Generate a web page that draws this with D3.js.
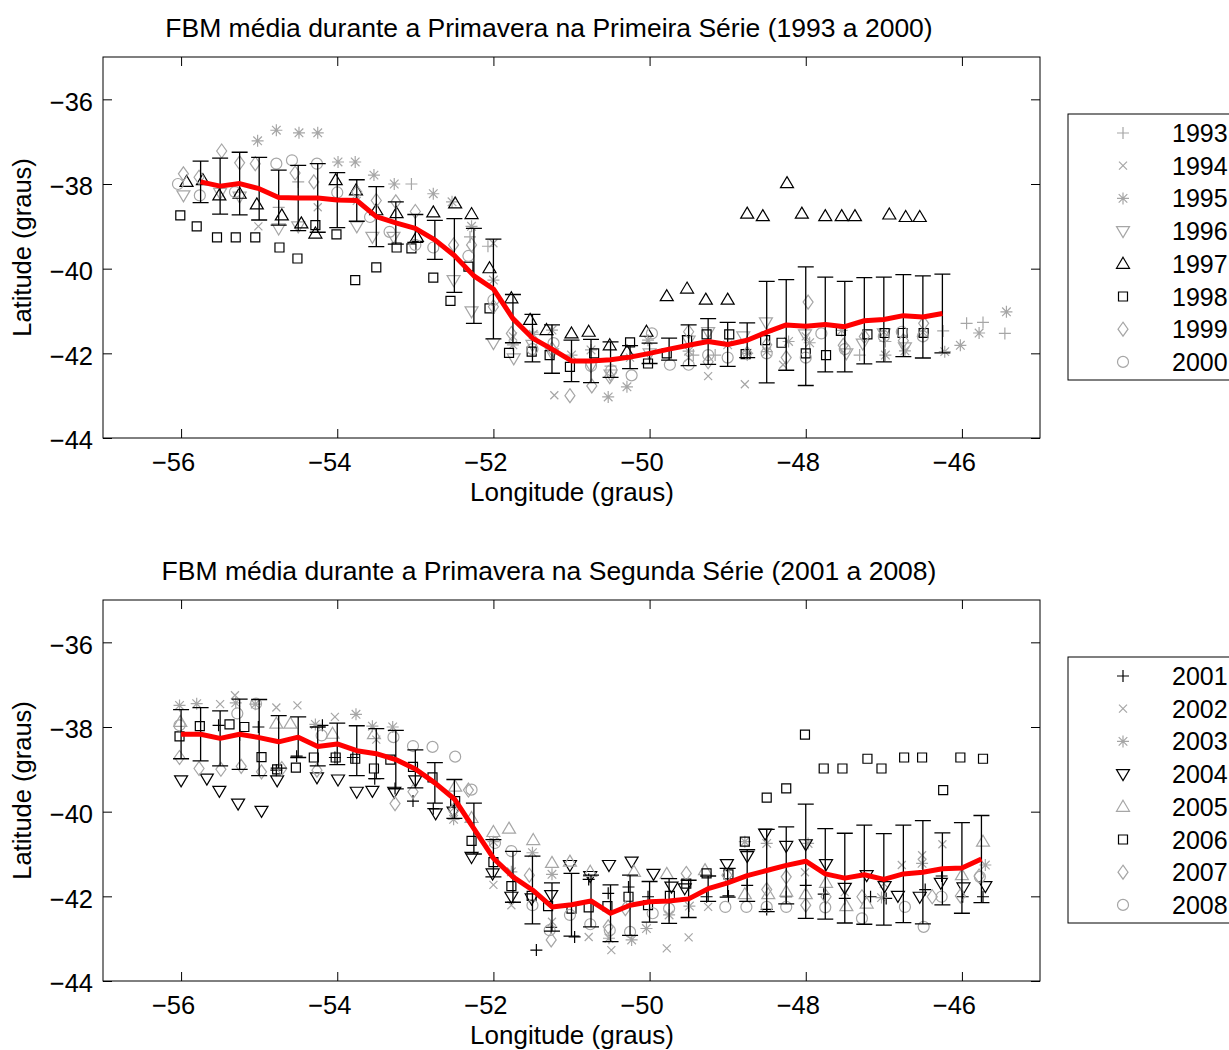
<!DOCTYPE html>
<html>
<head>
<meta charset="utf-8">
<script src="https://cdn.jsdelivr.net/npm/d3@7"></script>
<style>
  body { margin: 0; background: #fff; }
  svg { font-family: "Liberation Sans", Arial, sans-serif; }
</style>
</head>
<body>
<div id="chart"></div>
<script>
// ---------- data: panel 1 (1993 a 2000) ----------
const lon1 = [-55.75,-55.5,-55.25,-55,-54.75,-54.5,-54.25,-54,-53.75,-53.5,-53.25,-53,-52.75,-52.5,-52.25,-52,
  -51.75,-51.5,-51.25,-51,-50.75,-50.5,-50.25,-50,-49.75,-49.5,-49.25,-49,-48.75,-48.5,-48.25,-48,
  -47.75,-47.5,-47.25,-47,-46.75,-46.5,-46.25];
const mean1 = [-37.95,-38.05,-37.99,-38.11,-38.32,-38.33,-38.33,-38.38,-38.39,-38.77,-38.92,-39.05,-39.32,-39.69,-40.17,-40.48,
  -41.18,-41.64,-41.9,-42.18,-42.18,-42.15,-42.09,-42.0,-41.9,-41.81,-41.72,-41.79,-41.69,-41.5,-41.33,-41.36,
  -41.32,-41.37,-41.23,-41.2,-41.11,-41.14,-41.06];
const std1 = [0.49,0.66,0.74,0.74,0.65,0.77,0.81,0.65,0.49,0.71,0.5,0.33,0.46,0.87,1.12,1.18,
  0.57,0.56,0.57,0.49,0.51,0.42,0.27,0.24,0.26,0.48,0.54,0.52,0.41,1.2,1.07,1.4,
  1.12,1.07,1.02,1.0,0.97,0.97,0.93];

const y1993 = [[-54.75,-38.55],[-54.5,-37.95],[-53.05,-38.0],[-52.3,-39.25],[-52.07,-39.47],[-51.5,-41.5],[-50.5,-42.3],
  [-49.44,-42.04],[-49.16,-42.04],[-48.5,-41.5],[-47.31,-42.04],[-46.98,-41.72],[-46.5,-41.6],[-46.24,-41.47],
  [-45.94,-41.29],[-45.73,-41.27],[-45.45,-41.53]];
const y1994 = [[-55.01,-39.0],[-54.25,-38.55],[-53.75,-38.4],[-52.0,-39.4],[-51.75,-41.6],[-51.22,-42.99],[-50.25,-42.1],
  [-49.5,-42.1],[-49.25,-42.54],[-48.78,-42.73],[-48.29,-42.27],[-48.0,-41.6],[-47.0,-41.5],[-46.5,-41.5]];
const y1995 = [[-55.02,-36.98],[-54.78,-36.73],[-54.49,-36.79],[-54.25,-36.79],[-53.99,-37.48],[-53.77,-37.48],[-53.53,-37.79],
  [-53.27,-38.0],[-52.77,-38.23],[-52.53,-38.42],[-52.28,-39.0],[-52.0,-40.27],[-51.75,-41.8],[-51.49,-41.55],[-51.25,-41.45],
  [-51.0,-42.04],[-50.75,-41.92],[-50.53,-43.03],[-50.29,-42.79],[-50.02,-41.69],[-49.5,-41.95],[-49.0,-41.8],[-48.75,-42.0],
  [-48.5,-41.96],[-48.22,-41.72],[-47.95,-41.75],[-47.54,-41.46],[-46.98,-42.04],[-46.73,-41.94],[-46.22,-41.96],
  [-46.02,-41.81],[-45.78,-41.52],[-45.43,-41.02]];
const y1996 = [[-55.97,-38.27],[-55.5,-38.21],[-55.25,-38.3],[-54.75,-39.05],[-54.5,-39.0],[-53.75,-39.0],[-53.55,-39.25],[-53.28,-39.25],
  [-52.51,-40.27],[-52.28,-41.01],[-52.0,-41.76],[-51.74,-42.12],[-51.5,-41.8],[-51.25,-42.0],[-50.75,-42.3],[-50.5,-42.5],
  [-50.0,-42.0],[-49.5,-41.7],[-49.25,-41.5],[-48.8,-41.6],[-48.51,-41.27],[-48.01,-41.55],[-47.48,-42.0],[-47.27,-41.77],
  [-47.0,-41.53],[-46.73,-41.86]];
const y1997 = [[-55.93,-37.95],[-55.72,-37.91],[-55.51,-38.27],[-55.25,-38.23],[-55.03,-38.48],[-54.71,-38.74],[-54.46,-38.93],
  [-54.28,-39.17],[-54.02,-37.91],[-53.76,-38.15],[-53.5,-38.62],[-53.24,-38.69],[-52.98,-39.25],[-52.77,-38.67],[-52.49,-38.46],
  [-52.28,-38.71],[-52.05,-39.99],[-51.77,-40.7],[-51.53,-41.21],[-51.32,-41.45],[-51.0,-41.53],[-50.78,-41.49],[-50.51,-41.81],
  [-50.29,-41.96],[-50.04,-41.49],[-49.78,-40.65],[-49.52,-40.47],[-49.28,-40.73],[-49.0,-40.73],[-48.75,-38.7],[-48.55,-38.76],
  [-48.24,-37.98],[-48.05,-38.7],[-47.75,-38.76],[-47.54,-38.76],[-47.37,-38.76],[-46.93,-38.72],[-46.72,-38.78],[-46.54,-38.78]];
const y1998 = [[-56.01,-38.74],[-55.8,-39.0],[-55.54,-39.26],[-55.3,-39.26],[-55.05,-39.26],[-54.74,-39.5],[-54.51,-39.76],
  [-54.28,-38.97],[-54.01,-39.19],[-53.77,-40.27],[-53.5,-39.97],[-53.24,-39.5],[-53.05,-39.52],[-52.77,-40.21],[-52.55,-40.76],
  [-52.32,-39.95],[-52.05,-40.94],[-51.8,-41.99],[-51.51,-41.96],[-51.28,-42.04],[-51.02,-42.32],[-50.71,-42.0],[-50.25,-41.74],
  [-50.02,-42.24],[-49.78,-42.0],[-49.52,-41.69],[-49.27,-41.55],[-48.98,-41.55],[-48.77,-42.02],[-48.52,-41.69],[-48.31,-41.75],
  [-48.0,-42.0],[-47.74,-42.04],[-47.55,-41.47],[-47.21,-41.55],[-46.99,-41.52],[-46.76,-41.52],[-46.49,-41.52]];
const y1999 = [[-55.97,-37.76],[-55.77,-37.84],[-55.48,-37.22],[-55.25,-37.5],[-55.05,-37.52],[-54.54,-37.74],[-54.3,-37.95],
  [-53.75,-38.19],[-53.5,-38.39],[-53.25,-38.42],[-53.0,-38.65],[-52.51,-39.44],[-52.28,-39.44],[-52.0,-40.9],[-51.77,-41.53],
  [-51.25,-41.9],[-51.02,-43.0],[-50.74,-42.77],[-50.51,-42.55],[-49.5,-41.49],[-49.25,-42.2],[-48.75,-42.0],[-48.5,-41.8],
  [-48.25,-42.1],[-47.97,-40.79],[-47.52,-41.81],[-47.25,-41.6],[-46.75,-41.7],[-46.49,-41.29]];
const y2000 = [[-56.04,-38.0],[-55.76,-38.27],[-55.31,-38.19],[-54.78,-37.52],[-54.58,-37.44],[-54.26,-37.52],[-54.0,-38.2],
  [-53.58,-38.78],[-53.33,-39.13],[-53.0,-39.44],[-52.77,-39.5],[-52.32,-39.7],[-52.0,-40.74],[-51.5,-41.9],[-51.23,-41.76],
  [-50.75,-42.3],[-50.49,-42.4],[-50.23,-42.52],[-49.97,-41.53],[-49.74,-42.27],[-49.5,-42.27],[-49.25,-42.04],[-49.0,-42.1],
  [-48.5,-42.0],[-48.0,-42.1],[-47.8,-41.53],[-47.5,-41.9],[-47.0,-41.6],[-46.77,-41.49],[-46.5,-41.6]];

// ---------- data: panel 2 (2001 a 2008) ----------
const lon2 = [-56,-55.75,-55.5,-55.25,-55,-54.75,-54.5,-54.25,-54,-53.75,-53.5,-53.25,-53,-52.75,-52.5,-52.25,-52,
  -51.75,-51.5,-51.25,-51,-50.75,-50.5,-50.25,-50,-49.75,-49.5,-49.25,-49,-48.75,-48.5,-48.25,-48,
  -47.75,-47.5,-47.25,-47,-46.75,-46.5,-46.25,-46,-45.75];
const mean2 = [-38.17,-38.17,-38.27,-38.17,-38.25,-38.35,-38.24,-38.46,-38.4,-38.56,-38.63,-38.77,-38.99,-39.32,-39.7,-40.4,-41.1,
  -41.54,-41.85,-42.25,-42.2,-42.11,-42.4,-42.21,-42.13,-42.11,-42.06,-41.82,-41.68,-41.51,-41.39,-41.27,-41.17,
  -41.47,-41.57,-41.49,-41.6,-41.47,-41.43,-41.35,-41.33,-41.12];
const std2 = [0.58,0.63,0.65,0.83,0.9,0.62,0.48,0.46,0.49,0.59,0.59,0.69,0.45,0.48,0.46,0.6,0.44,
  0.6,0.8,0.57,0.74,0.61,0.67,0.71,0.48,0.53,0.44,0.3,0.34,0.61,0.97,0.91,1.35,
  1.07,1.06,1.17,1.08,1.15,1.22,0.85,1.07,1.03];

const y2001 = [[-55.52,-37.96],[-55.25,-38.19],[-55.01,-38.0],[-54.78,-39.02],[-54.52,-38.69],[-54.19,-37.96],[-54.03,-38.72],
  [-53.8,-38.72],[-53.52,-39.22],[-53.26,-39.45],[-53.03,-39.75],[-52.77,-39.93],[-51.45,-43.27],[-51.26,-42.73],[-50.96,-42.96],
  [-50.78,-41.6],[-50.53,-41.93],[-50.27,-41.78],[-50.02,-42.01],[-49.27,-42.01],[-48.99,-41.99],[-48.75,-41.74],[-48.5,-42.31],
  [-48.25,-42.01],[-48.0,-41.74],[-47.77,-41.95],[-47.5,-42.05],[-47.17,-42.01],[-46.97,-42.05],[-46.47,-41.84],[-46.26,-41.52],
  [-45.99,-42.01],[-45.73,-42.01]];
const y2002 = [[-55.5,-37.46],[-55.31,-37.25],[-54.78,-37.54],[-54.51,-37.49],[-54.03,-37.76],[-53.5,-38.3],[-52.5,-39.9],
  [-52.0,-41.73],[-51.77,-42.21],[-51.25,-42.6],[-50.78,-42.96],[-50.49,-43.27],[-49.78,-43.23],[-49.5,-42.97],[-49.25,-42.25],
  [-48.01,-41.43],[-47.5,-41.9],[-47.0,-41.7],[-46.77,-41.26],[-46.51,-41.03],[-46.25,-40.77]];
const y2003 = [[-56.02,-37.49],[-55.8,-37.45],[-55.3,-37.43],[-55.05,-37.46],[-54.28,-37.94],[-53.76,-37.7],[-53.55,-37.98],
  [-53.29,-38.0],[-52.51,-40.18],[-52.0,-40.71],[-51.77,-41.42],[-51.5,-40.97],[-51.25,-41.48],[-50.52,-42.99],[-50.23,-43.03],
  [-50.04,-42.76],[-49.75,-42.44],[-49.49,-42.23],[-48.78,-40.71],[-48.5,-40.75],[-47.97,-40.75],[-47.03,-42.03],[-46.51,-41.22],
  [-45.7,-41.26]];
const y2004 = [[-56.0,-39.26],[-55.67,-39.22],[-55.51,-39.51],[-55.27,-39.81],[-54.97,-39.98],[-54.77,-39.26],[-54.26,-39.19],
  [-53.99,-39.24],[-53.75,-39.53],[-53.55,-39.51],[-53.27,-39.53],[-53.0,-39.26],[-52.74,-40.04],[-52.51,-40.0],[-52.28,-41.07],
  [-52.01,-41.46],[-51.77,-42.01],[-51.51,-42.05],[-51.26,-41.97],[-51.02,-41.26],[-50.76,-41.52],[-50.52,-41.26],[-50.23,-41.18],
  [-49.95,-41.47],[-49.72,-41.77],[-49.55,-41.81],[-49.01,-41.24],[-48.75,-41.05],[-48.52,-40.52],[-48.25,-40.81],[-48.0,-40.77],
  [-47.74,-41.24],[-47.5,-41.8],[-47.22,-41.5],[-46.99,-41.76],[-46.82,-41.99],[-46.54,-42.01],[-46.27,-41.68],[-45.98,-41.79],
  [-45.7,-41.76]];
const y2005 = [[-56.01,-37.88],[-54.78,-37.92],[-54.6,-37.92],[-54.06,-38.16],[-53.53,-38.17],[-52.49,-39.41],[-52.28,-40.15],
  [-52.0,-40.48],[-51.8,-40.4],[-51.49,-40.67],[-51.25,-41.21],[-51.02,-41.18],[-50.76,-41.42],[-50.2,-41.42],[-49.78,-41.47],
  [-49.29,-41.38],[-48.78,-41.95],[-48.48,-41.95],[-48.25,-41.89],[-48.0,-41.95],[-47.74,-41.68],[-47.48,-42.23],[-47.22,-42.17],
  [-46.0,-41.5],[-45.73,-40.71]];
const y2006 = [[-56.02,-38.22],[-55.76,-37.98],[-55.38,-37.94],[-55.19,-38.0],[-54.97,-38.71],[-54.77,-39.0],[-54.53,-38.96],
  [-54.3,-38.72],[-54.02,-38.72],[-53.77,-38.75],[-53.53,-38.98],[-53.32,-38.77],[-53.03,-38.94],[-52.78,-39.19],[-52.49,-39.75],
  [-52.28,-40.69],[-52.0,-41.19],[-51.77,-41.76],[-51.51,-41.99],[-51.3,-42.23],[-51.0,-42.29],[-50.78,-42.26],[-50.54,-42.23],
  [-50.27,-42.01],[-50.02,-42.21],[-49.74,-41.99],[-49.53,-41.7],[-49.27,-41.46],[-48.99,-41.48],[-48.78,-40.71],[-48.5,-39.67],
  [-48.25,-39.45],[-48.01,-38.18],[-47.77,-38.98],[-47.53,-38.98],[-47.21,-38.75],[-47.03,-38.98],[-46.74,-38.72],[-46.51,-38.72],
  [-46.24,-39.49],[-46.02,-38.72],[-45.73,-38.75]];
const y2007 = [[-56.02,-38.72],[-55.77,-38.98],[-55.49,-39.0],[-55.23,-38.93],[-54.97,-39.06],[-54.71,-38.98],[-54.26,-39.02],
  [-53.26,-39.81],[-53.03,-39.53],[-52.51,-39.97],[-52.32,-39.49],[-51.54,-41.5],[-51.26,-43.03],[-50.53,-42.72],[-50.31,-42.29],
  [-49.53,-41.46],[-49.01,-41.5],[-48.5,-41.84],[-48.25,-41.54],[-48.0,-42.21],[-47.74,-42.01],[-47.28,-42.01],[-46.38,-42.01],
  [-46.02,-41.99],[-45.78,-41.52]];
const y2008 = [[-56.02,-37.96],[-55.28,-37.68],[-55.04,-37.45],[-54.2,-38.2],[-53.28,-38.24],[-53.03,-38.45],[-52.78,-38.47],
  [-52.49,-38.7],[-52.28,-39.48],[-51.98,-40.74],[-51.77,-40.93],[-51.5,-42.21],[-51.28,-42.8],[-51.02,-42.44],[-50.76,-42.66],
  [-50.51,-42.8],[-50.25,-42.84],[-49.96,-42.4],[-49.75,-42.29],[-49.03,-42.25],[-48.76,-42.25],[-48.5,-42.25],[-48.25,-42.25],
  [-47.75,-42.26],[-47.28,-42.52],[-46.73,-42.25],[-46.49,-42.72],[-46.26,-42.01],[-45.77,-41.54]];

const xTicks = [-56, -54, -52, -50, -48, -46];
const yTicks = [-44, -42, -40, -38, -36];

// ---------- layout ----------
const W = 1229, H = 1050;
const GRAY = "#a6a6a6";
const FONT = "Liberation Sans, Arial, sans-serif";
const plot = { left: 103, right: 1040, height: 381 };

const svg = d3.select("#chart").append("svg")
  .attr("width", W).attr("height", H);

function markerPath(shape, x, y) {
  switch (shape) {
    case "+": return `M${x-6},${y}H${x+6}M${x},${y-6}V${y+6}`;
    case "x": return `M${x-4},${y-4}L${x+4},${y+4}M${x-4},${y+4}L${x+4},${y-4}`;
    case "*": return `M${x-6},${y}H${x+6}M${x},${y-6}V${y+6}M${x-4.3},${y-4.3}L${x+4.3},${y+4.3}M${x-4.3},${y+4.3}L${x+4.3},${y-4.3}`;
    case "^": return `M${x},${y-6.5}L${x+6.5},${y+4.5}L${x-6.5},${y+4.5}Z`;
    case "v": return `M${x},${y+6.5}L${x+6.5},${y-4.5}L${x-6.5},${y-4.5}Z`;
    case "s": return `M${x-4.5},${y-4.5}H${x+4.5}V${y+4.5}H${x-4.5}Z`;
    case "d": return `M${x},${y-7}L${x+5},${y}L${x},${y+7}L${x-5},${y}Z`;
    case "o": return `M${x+5.5},${y}A5.5,5.5 0 1,1 ${x-5.5},${y}A5.5,5.5 0 1,1 ${x+5.5},${y}Z`;
  }
}

const fmt = d => (d < 0 ? "\u2212" + Math.abs(d) : String(d));

function drawPanel(top, title, series, lons, means, stds) {
  const x = d3.scaleLinear().domain([-57, -45]).range([plot.left, plot.right]);
  const y = d3.scaleLinear().domain([-44, -35]).range([top + plot.height, top]);
  const g = svg.append("g");

  // markers by year
  series.forEach(s => {
    g.append("g").selectAll("path").data(s.data).join("path")
      .attr("d", d => markerPath(s.shape, x(d[0]), y(d[1])))
      .attr("fill", "none")
      .attr("stroke", s.color)
      .attr("stroke-width", 1.2);
  });

  // error bars
  const eb = g.append("g").attr("stroke", "#000").attr("stroke-width", 1.3).attr("fill", "none");
  eb.selectAll("path").data(lons.map((l, i) => [l, means[i], stds[i]])).join("path")
    .attr("d", d => {
      const cx = x(d[0]), y0 = y(d[1] + d[2]), y1 = y(d[1] - d[2]);
      return `M${cx},${y0}V${y1}M${cx-8},${y0}H${cx+8}M${cx-8},${y1}H${cx+8}`;
    });

  // mean line
  g.append("path")
    .datum(lons.map((l, i) => [l, means[i]]))
    .attr("fill", "none").attr("stroke", "#ff0000").attr("stroke-width", 5)
    .attr("stroke-linejoin", "round")
    .attr("d", d3.line().x(d => x(d[0])).y(d => y(d[1])));

  // axes (ticks inward on all sides)
  const bottom = top + plot.height;
  const ax = g.append("g");
  const xb = ax.append("g").attr("transform", `translate(0,${bottom})`)
    .call(d3.axisBottom(x).tickValues(xTicks).tickFormat(fmt).tickSizeInner(-9).tickSizeOuter(0).tickPadding(15));
  xb.selectAll(".tick text").attr("dx", -8);
  ax.append("g").attr("transform", `translate(0,${top})`)
    .call(d3.axisTop(x).tickValues(xTicks).tickFormat("").tickSizeInner(-9).tickSizeOuter(0));
  const yl = ax.append("g").attr("transform", `translate(${plot.left},0)`)
    .call(d3.axisLeft(y).tickValues(yTicks).tickFormat(fmt).tickSizeInner(-9).tickSizeOuter(0).tickPadding(10));
  yl.selectAll(".tick text").attr("dy", "0.43em");
  ax.append("g").attr("transform", `translate(${plot.right},0)`)
    .call(d3.axisRight(y).tickValues(yTicks).tickFormat("").tickSizeInner(-9).tickSizeOuter(0));
  ax.selectAll(".domain").remove();
  ax.selectAll("g").attr("font-size", 25.5).attr("font-family", FONT);
  ax.selectAll(".tick line").attr("stroke", "#000");
  ax.selectAll(".tick text").attr("fill", "#000");

  g.append("rect")
    .attr("x", plot.left).attr("y", top)
    .attr("width", plot.right - plot.left).attr("height", plot.height)
    .attr("fill", "none").attr("stroke", "#000").attr("stroke-width", 1);

  // labels
  g.append("text").attr("x", 549).attr("y", top - 20)
    .attr("text-anchor", "middle").attr("font-size", 26.5).text(title);
  g.append("text").attr("x", 572).attr("y", bottom + 63)
    .attr("text-anchor", "middle").attr("font-size", 26).text("Longitude (graus)");
  g.append("text")
    .attr("transform", `translate(31,${top + plot.height / 2}) rotate(-90)`)
    .attr("text-anchor", "middle").attr("font-size", 25.5).text("Latitude (graus)");

  // legend
  const lgTop = top + 57;
  const lg = g.append("g");
  lg.append("rect").attr("x", 1068).attr("y", lgTop)
    .attr("width", 200).attr("height", 266)
    .attr("fill", "#fff").attr("stroke", "#000").attr("stroke-width", 1);
  series.forEach((s, i) => {
    const cy = lgTop + 19 + i * 32.7;
    lg.append("path").attr("d", markerPath(s.shape, 1123, cy))
      .attr("fill", "none").attr("stroke", s.color).attr("stroke-width", 1.2);
    lg.append("text").attr("x", 1172).attr("y", cy + 9)
      .attr("font-size", 25).text(s.name);
  });
}

drawPanel(57, "FBM média durante a Primavera na Primeira Série (1993 a 2000)", [
  { name: "1993", shape: "+", color: GRAY, data: y1993 },
  { name: "1994", shape: "x", color: GRAY, data: y1994 },
  { name: "1995", shape: "*", color: GRAY, data: y1995 },
  { name: "1996", shape: "v", color: GRAY, data: y1996 },
  { name: "1997", shape: "^", color: "#000", data: y1997 },
  { name: "1998", shape: "s", color: "#000", data: y1998 },
  { name: "1999", shape: "d", color: GRAY, data: y1999 },
  { name: "2000", shape: "o", color: GRAY, data: y2000 }
], lon1, mean1, std1);

drawPanel(600, "FBM média durante a Primavera na Segunda Série (2001 a 2008)", [
  { name: "2001", shape: "+", color: "#000", data: y2001 },
  { name: "2002", shape: "x", color: GRAY, data: y2002 },
  { name: "2003", shape: "*", color: GRAY, data: y2003 },
  { name: "2004", shape: "v", color: "#000", data: y2004 },
  { name: "2005", shape: "^", color: GRAY, data: y2005 },
  { name: "2006", shape: "s", color: "#000", data: y2006 },
  { name: "2007", shape: "d", color: GRAY, data: y2007 },
  { name: "2008", shape: "o", color: GRAY, data: y2008 }
], lon2, mean2, std2);
</script>
</body>
</html>
